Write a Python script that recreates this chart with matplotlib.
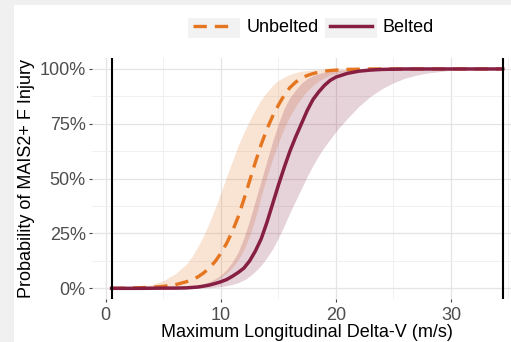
import matplotlib
matplotlib.use("Agg")
import matplotlib.pyplot as plt
from matplotlib.patches import Rectangle
from matplotlib.ticker import FixedLocator, PercentFormatter

plt.rcParams['font.family'] = ['Liberation Sans', 'DejaVu Sans']

# values
deltaV = [0.5, 2, 3, 4, 5, 6, 7, 7.5, 8, 8.5, 9, 9.5, 10, 10.5, 11, 11.5, 12, 12.5, 13, 13.5,
          14, 14.5, 15, 15.5, 16, 16.5, 17, 17.5, 18, 18.5, 19, 19.5, 20, 21, 22, 23, 24, 25,
          26, 27, 28, 30, 32, 34.5]

unbeltedMean = [0.0, 0.001, 0.003, 0.005, 0.009, 0.016, 0.03, 0.04, 0.052, 0.07, 0.093, 0.122,
                0.16, 0.205, 0.26, 0.325, 0.405, 0.49, 0.575, 0.655, 0.725, 0.785, 0.835, 0.88,
                0.915, 0.94, 0.958, 0.97, 0.979, 0.985, 0.99, 0.993, 0.995, 0.998, 0.999, 1.0,
                1.0, 1.0, 1.0, 1.0, 1.0, 1.0, 1.0, 1.0]
unbeltedUpper = [0.001, 0.004, 0.008, 0.017, 0.035, 0.065, 0.11, 0.145, 0.19, 0.24, 0.30, 0.365,
                 0.435, 0.51, 0.58, 0.65, 0.71, 0.765, 0.815, 0.86, 0.895, 0.925, 0.948, 0.963,
                 0.975, 0.983, 0.99, 0.993, 0.996, 0.997, 0.998, 0.999, 0.999, 1.0, 1.0, 1.0,
                 1.0, 1.0, 1.0, 1.0, 1.0, 1.0, 1.0, 1.0]
unbeltedLower = [0.0, 0.0, 0.0, 0.001, 0.002, 0.004, 0.007, 0.009, 0.012, 0.017, 0.025, 0.035,
                 0.05, 0.07, 0.095, 0.13, 0.175, 0.24, 0.32, 0.42, 0.51, 0.59, 0.665, 0.73,
                 0.785, 0.83, 0.868, 0.9, 0.925, 0.945, 0.96, 0.972, 0.98, 0.99, 0.995, 0.998,
                 0.999, 1.0, 1.0, 1.0, 1.0, 1.0, 1.0, 1.0]

beltedMean = [0.0, 0.0, 0.0, 0.0005, 0.001, 0.001, 0.002, 0.004, 0.006, 0.01, 0.015, 0.022,
              0.03, 0.04, 0.055, 0.072, 0.092, 0.125, 0.17, 0.225, 0.30, 0.385, 0.47, 0.55,
              0.625, 0.69, 0.75, 0.81, 0.86, 0.895, 0.925, 0.948, 0.963, 0.98, 0.99, 0.995,
              0.998, 0.999, 1.0, 1.0, 1.0, 1.0, 1.0, 1.0]
beltedUpper = [0.0, 0.0005, 0.001, 0.001, 0.002, 0.003, 0.007, 0.01, 0.015, 0.021, 0.03, 0.043,
               0.06, 0.085, 0.12, 0.165, 0.23, 0.31, 0.40, 0.49, 0.58, 0.67, 0.75, 0.82,
               0.87, 0.905, 0.935, 0.955, 0.97, 0.978, 0.985, 0.99, 0.993, 0.996, 0.998, 0.999,
               1.0, 1.0, 1.0, 1.0, 1.0, 1.0, 1.0, 1.0]
beltedLower = [0.0, 0.0, 0.0, 0.0, 0.0, 0.0, 0.0, 0.001, 0.001, 0.002, 0.003, 0.005,
               0.008, 0.012, 0.018, 0.026, 0.038, 0.055, 0.078, 0.105, 0.14, 0.18, 0.23, 0.285,
               0.345, 0.4, 0.455, 0.51, 0.56, 0.605, 0.645, 0.68, 0.715, 0.775, 0.83, 0.875,
               0.91, 0.937, 0.958, 0.972, 0.982, 0.994, 0.998, 1.0]

dataRange = [0.5, 34.5]
xTicks = [0, 10, 20, 30]
yTicks = [0, 0.25, 0.5, 0.75, 1.0]

orange = "#E5751F"
maroon = "#861F41"
fontSize = 13

fig = plt.figure(figsize=(5.11, 3.42), dpi=100)
fig.patch.set_facecolor("white")

# light grey frame on the left / top edge of the screenshot
fig.patches.append(Rectangle((0, 0), 14 / 511, 1, transform=fig.transFigure,
                             facecolor="#f0f0f0", edgecolor="none", zorder=0))
fig.patches.append(Rectangle((0, 1 - 5 / 342), 1, 5 / 342, transform=fig.transFigure,
                             facecolor="#f0f0f0", edgecolor="none", zorder=0))

ax = fig.add_axes([92 / 511, 42.7 / 342, 430.3 / 511, 241.3 / 342])
ax.set_facecolor("white")

ax.fill_between(deltaV, unbeltedLower, unbeltedUpper, color=orange, alpha=0.2, linewidth=0)
ax.fill_between(deltaV, beltedLower, beltedUpper, color=maroon, alpha=0.2, linewidth=0)
lnU, = ax.plot(deltaV, unbeltedMean, color=orange, linewidth=2.4, dashes=(4, 2.4), label="Unbelted")
lnB, = ax.plot(deltaV, beltedMean, color=maroon, linewidth=2.5, label="Belted")

for v in dataRange:
    ax.axvline(v, color="black", linewidth=1.5, zorder=5)

ax.set_xlim(-1.2, 36.2)
ax.set_ylim(-0.05, 1.05)
ax.xaxis.set_major_locator(FixedLocator(xTicks))
ax.xaxis.set_minor_locator(FixedLocator([5, 15, 25, 35]))
ax.yaxis.set_major_locator(FixedLocator(yTicks))
ax.yaxis.set_minor_locator(FixedLocator([0.125, 0.375, 0.625, 0.875]))
ax.yaxis.set_major_formatter(PercentFormatter(1.0, decimals=0))

ax.grid(which="major", color="#e4e4e4", linewidth=0.9)
ax.grid(which="minor", color="#eeeeee", linewidth=0.6)
ax.set_axisbelow(True)
for s in ax.spines.values():
    s.set_visible(False)

ax.tick_params(which="major", length=2.5, width=0.8, color="#444444",
               labelcolor="#4d4d4d", labelsize=fontSize, pad=2)
ax.tick_params(axis="x", which="major", pad=3)
ax.tick_params(which="minor", length=0)

ax.set_xlabel("Maximum Longitudinal Delta-V (m/s)", fontsize=fontSize, labelpad=0)
ax.set_ylabel("Probability of MAIS2+ F Injury", fontsize=fontSize, labelpad=3)

# legend on top with grey key boxes
for x0 in (188, 325):
    fig.patches.append(Rectangle((x0 / 511, 1 - 38 / 342), 52 / 511, 20 / 342,
                                 transform=fig.transFigure, facecolor="#f2f2f2",
                                 edgecolor="none", zorder=1))
fig.legend(handles=[lnU, lnB], loc="center left", bbox_to_anchor=(193 / 511, 1 - 28 / 342),
           ncol=2, frameon=False, fontsize=fontSize, borderpad=0, borderaxespad=0,
           handlelength=2.33, handletextpad=0.62, columnspacing=0.62)

fig.savefig("out.png", dpi=100)
